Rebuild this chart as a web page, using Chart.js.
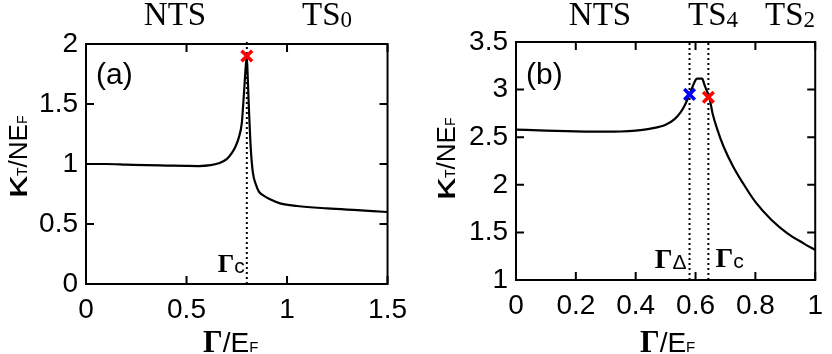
<!DOCTYPE html>
<html>
<head>
<meta charset="utf-8">
<script src="https://cdn.jsdelivr.net/npm/chart.js@4/dist/chart.umd.min.js"></script>
<style>
  html, body { margin: 0; padding: 0; background: #fff; }
  #wrap { position: relative; width: 832px; height: 354px; overflow: hidden; }
  .panel { position: absolute; top: 0; width: 416px; height: 354px; }
</style>
</head>
<body>
<div id="wrap">
  <div class="panel" style="left:0"><canvas id="chartA"></canvas></div>
  <div class="panel" style="left:416px"><canvas id="chartB"></canvas></div>
</div>
<script>
// panel (a) : kappa_T / N E_F vs Gamma / E_F
const aGamma = [0, 0.1, 0.2, 0.3, 0.4, 0.5, 0.56, 0.62, 0.66, 0.7, 0.725, 0.745, 0.76, 0.775, 0.787, 0.795, 0.8, 0.805, 0.81, 0.82, 0.83, 0.845, 0.86, 0.88, 0.91, 0.97, 1.05, 1.2, 1.35, 1.5];
const aKappa = [1.0, 1.0, 0.995, 0.99, 0.987, 0.984, 0.983, 0.99, 1.006, 1.04, 1.09, 1.15, 1.22, 1.34, 1.62, 1.82, 1.89, 1.7, 1.48, 1.12, 0.93, 0.83, 0.77, 0.74, 0.71, 0.67, 0.65, 0.63, 0.615, 0.60];
const aTicksX = [0, 0.5, 1, 1.5];
const aTicksY = [0, 0.5, 1, 1.5, 2];
const aGammaC = 0.8;
const aCrossRed = [0.8, 1.9];

// panel (b)
const bGamma = [0, 0.1, 0.2, 0.3, 0.35, 0.4, 0.45, 0.5, 0.53, 0.55, 0.565, 0.58, 0.59, 0.6, 0.605, 0.622, 0.63, 0.636, 0.646, 0.657, 0.673, 0.694, 0.726, 0.758, 0.8, 0.854, 0.907, 0.961, 1.0];
const bKappa = [2.58, 2.57, 2.562, 2.558, 2.56, 2.57, 2.59, 2.63, 2.69, 2.76, 2.84, 2.95, 3.03, 3.1, 3.115, 3.115, 3.05, 3.0, 2.92, 2.75, 2.58, 2.4, 2.19, 2.02, 1.82, 1.63, 1.49, 1.385, 1.315];
const bTicksX = [0, 0.2, 0.4, 0.6, 0.8, 1];
const bTicksY = [1, 1.5, 2, 2.5, 3, 3.5];
const bGammaDelta = 0.58;
const bGammaC = 0.643;
const bCrossBlue = [0.58, 2.95];
const bCrossRed = [0.643, 2.92];

const SANS = '"Liberation Sans", Arial, Helvetica, sans-serif';
const SERIF = '"Liberation Serif", "Times New Roman", serif';

function pts(xs, ys) { return xs.map((x, i) => ({ x: x, y: ys[i] })); }
function fmt(v) { return String(Math.round(v * 10) / 10); }

// draw a run of text pieces with different fonts
function rich(ctx, parts, x, y, align) {
  let w = 0;
  parts.forEach(p => { ctx.font = p.f; p.w = ctx.measureText(p.t).width * (p.sx || 1); w += p.w; });
  let cx = align === 'center' ? x - w / 2 : (align === 'right' ? x - w : x);
  ctx.textAlign = 'left';
  ctx.textBaseline = 'alphabetic';
  parts.forEach(p => {
    ctx.font = p.f;
    if (p.sx) {
      ctx.save(); ctx.translate(cx, y + (p.dy || 0)); ctx.scale(p.sx, 1);
      ctx.fillText(p.t, 0, 0); ctx.restore();
    } else {
      ctx.fillText(p.t, cx, y + (p.dy || 0));
    }
    cx += p.w;
  });
}

// frame + inward ticks on all four sides
const framePlugin = {
  id: 'frame',
  afterDraw(chart, args, opts) {
    const ctx = chart.ctx, a = chart.chartArea;
    const xs = chart.scales.x, ys = chart.scales.y;
    ctx.save();
    ctx.strokeStyle = '#000';
    ctx.lineWidth = 2;
    ctx.strokeRect(a.left, a.top, a.right - a.left, a.bottom - a.top);
    const L = 8;
    ctx.beginPath();
    opts.tx.forEach(v => {
      const p = xs.getPixelForValue(v);
      ctx.moveTo(p, a.bottom); ctx.lineTo(p, a.bottom - L);
      ctx.moveTo(p, a.top); ctx.lineTo(p, a.top + L);
    });
    opts.ty.forEach(v => {
      const p = ys.getPixelForValue(v);
      ctx.moveTo(a.left, p); ctx.lineTo(a.left + L, p);
      ctx.moveTo(a.right, p); ctx.lineTo(a.right - L, p);
    });
    ctx.stroke();

    ctx.fillStyle = '#000';
    // axis titles
    const xc = (a.left + a.right) / 2 + opts.xTitleShift;
    rich(ctx, [
      { t: 'Γ', f: 'bold 31px ' + SERIF },
      { t: '/E', f: '28px ' + SANS },
      { t: 'F', f: '15px ' + SANS }
    ], xc, 352, 'center');
    ctx.save();
    ctx.translate(opts.yTitleX, opts.yTitleY);
    ctx.rotate(-Math.PI / 2);
    rich(ctx, [
      { t: 'κ', f: '31px ' + SANS, sx: 1.45 },
      { t: 'T', f: '14px ' + SANS },
      { t: '/NE', f: '26px ' + SANS },
      { t: 'F', f: '14px ' + SANS }
    ], 0, 0, 'center');
    ctx.restore();

    // panel letter
    rich(ctx, [{ t: opts.letter, f: '30px ' + SANS }], a.left + 10, 84, 'left');

    // region names above the frame
    opts.regions.forEach(r => {
      const parts = [{ t: r[0], f: '33px ' + SERIF }];
      if (r[1]) parts.push({ t: r[1], f: '23px ' + SERIF, dy: 2 });
      rich(ctx, parts, r[2], 25, r[3]);
    });

    // critical point labels next to the dotted lines
    opts.gammas.forEach(g => {
      const p = xs.getPixelForValue(g[0]);
      rich(ctx, [
        { t: 'Γ', f: 'bold ' + g[3] + 'px ' + SERIF },
        { t: g[1], f: '21px ' + SANS, dy: 1 }
      ], p + g[2], g[4], g[2] < 0 ? 'right' : 'left');
    });
    ctx.restore();
  }
};

function axisOpts(min, max, step, size, isX) {
  return {
    type: 'linear',
    min: min, max: max,
    grid: { display: false, drawTicks: false },
    border: { display: false },
    ticks: {
      stepSize: step,
      padding: isX ? 9 : 8,
      color: '#000',
      font: { family: SANS, size: 28 },
      maxRotation: 0,
      autoSkip: false,
      callback: v => fmt(v)
    },
    afterFit: s => { if (isX) s.height = size; else s.width = size; }
  };
}

function dotted(g, y0, y1) {
  return {
    data: [{ x: g, y: y0 }, { x: g, y: y1 }],
    borderColor: '#000', borderWidth: 2, borderDash: [2, 3],
    pointRadius: 0, clip: false, order: 3
  };
}
function cross(p, col) {
  return {
    data: [{ x: p[0], y: p[1] }],
    showLine: false, pointStyle: 'crossRot', pointRadius: 7.5,
    borderColor: col, pointBorderWidth: 3.5, backgroundColor: col,
    clip: false, order: 0
  };
}
function curve(xs, ys) {
  return {
    data: pts(xs, ys),
    borderColor: '#000', borderWidth: 2.2,
    pointRadius: 0, cubicInterpolationMode: 'monotone', order: 2
  };
}

const common = {
  responsive: false,
  animation: false,
  events: [],
  plugins: { legend: { display: false }, tooltip: { enabled: false } }
};

function setSize(id) {
  const c = document.getElementById(id);
  c.width = 416; c.height = 354;
  c.style.width = '416px'; c.style.height = '354px';
  return c;
}

new Chart(setSize('chartA'), {
  type: 'line',
  data: {
    datasets: [
      curve(aGamma, aKappa),
      dotted(aGammaC, 0, 2.04),
      cross(aCrossRed, '#ff0000')
    ]
  },
  options: Object.assign({}, common, {
    layout: { autoPadding: false, padding: { left: 0, top: 44, right: 25, bottom: 0 } },
    scales: {
      x: axisOpts(0, 1.5, 0.5, 70, true),
      y: axisOpts(0, 2, 0.5, 86, false)
    },
    plugins: Object.assign({}, common.plugins, {
      frame: {
        tx: aTicksX, ty: aTicksY, letter: '(a)', xTitleShift: -6,
        yTitleX: 27, yTitleY: 157,
        regions: [['NTS', '', 175, 'center'], ['TS', '0', 302, 'left']],
        gammas: [[aGammaC, 'c', -2, 26, 272]]
      }
    })
  }),
  plugins: [framePlugin]
});

new Chart(setSize('chartB'), {
  type: 'line',
  data: {
    datasets: [
      curve(bGamma, bKappa),
      dotted(bGammaDelta, 1, 3.5),
      dotted(bGammaC, 1, 3.5),
      cross(bCrossBlue, '#0000ff'),
      cross(bCrossRed, '#ff0000')
    ]
  },
  options: Object.assign({}, common, {
    layout: { autoPadding: false, padding: { left: 0, top: 42, right: 3, bottom: 0 } },
    scales: {
      x: axisOpts(0, 1, 0.2, 74, true),
      y: axisOpts(1, 3.5, 0.5, 100, false)
    },
    plugins: Object.assign({}, common.plugins, {
      frame: {
        tx: bTicksX, ty: bTicksY, letter: '(b)', xTitleShift: 2,
        yTitleX: 39, yTitleY: 159,
        regions: [['NTS', '', 184, 'center'], ['TS', '4', 272, 'left'], ['TS', '2', 349, 'left']],
        gammas: [[bGammaDelta, 'Δ', -3, 28, 268], [bGammaC, 'c', 7, 28, 267]]
      }
    })
  }),
  plugins: [framePlugin]
});
</script>
</body>
</html>
